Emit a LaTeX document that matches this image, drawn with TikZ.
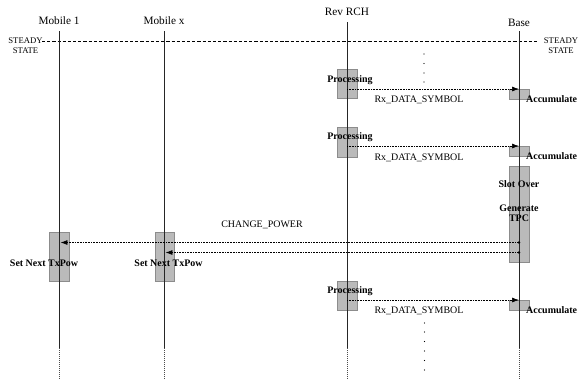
\documentclass[tikz,border=0pt]{standalone}
\usepackage{fontspec}
\setmainfont{Liberation Serif}
\usetikzlibrary{arrows.meta}
\begin{document}
\begin{tikzpicture}[x=1bp,y=-1bp,
  hdr/.style={font=\fontsize{11.3}{12}\selectfont, inner sep=0pt},
  lbl/.style={font=\fontsize{10}{11}\selectfont, inner sep=0pt},
  blbl/.style={font=\bfseries\fontsize{10}{11}\selectfont, inner sep=0pt},
  sslbl/.style={font=\fontsize{8.7}{9.5}\selectfont, inner sep=0pt, align=center},
  life/.style={line width=0.9pt, draw=black!85},
  lifeend/.style={line width=0.9pt, draw=black!70, dash pattern=on 1pt off 1pt},
  actbox/.style={draw=black!45, fill=black!27, line width=0.6pt, inner sep=0pt},
  msg/.style={draw=black, line width=0.7pt, dash pattern=on 0.8pt off 0.8pt, -{Latex[length=7pt,width=5pt]}},
  dotmark/.style={circle, fill=black, inner sep=0pt, minimum size=2.6pt},
  smalldot/.style={circle, fill=black, inner sep=0pt, minimum size=1.3pt}
]
\useasboundingbox (0,0) rectangle (580,379);

% headers
\node[hdr] (m1) at (59,21) {Mobile 1};
\node[hdr] (mx) at (164,21) {Mobile x};
\node[hdr] (rr) at (347,12) {Rev RCH};
\node[hdr] (bs) at (519,23) {Base};

% lifeline coordinates
\coordinate (m1t) at (59,31);  \coordinate (m1m) at (59,348); \coordinate (m1b) at (59,378);
\coordinate (mxt) at (164,31); \coordinate (mxm) at (164,348); \coordinate (mxb) at (164,378);
\coordinate (rrt) at (347,22); \coordinate (rrm) at (347,348); \coordinate (rrb) at (347,378);
\coordinate (bst) at (519,31); \coordinate (bsm) at (519,348); \coordinate (bsb) at (519,378);

% steady state
\node[sslbl] (ssl) at (25.5,45.5) {STEADY\\STATE};
\node[sslbl] (ssr) at (561,45.5) {STEADY\\STATE};
\coordinate (dl) at (42,41.5);
\coordinate (dr) at (539,41.5);
\draw[line width=0.7pt, dash pattern=on 3.2pt off 2pt] (dl) -- (dr);

% activation boxes
\node[actbox, minimum width=20bp, minimum height=29bp] (p1) at (347,84) {};
\node[actbox, minimum width=20bp, minimum height=30bp] (p2) at (347,142) {};
\node[actbox, minimum width=20bp, minimum height=29bp] (p3) at (347,295.5) {};
\node[actbox, minimum width=20bp, minimum height=10bp] (a1) at (519,94) {};
\node[actbox, minimum width=20bp, minimum height=10bp] (a2) at (519,151) {};
\node[actbox, minimum width=20bp, minimum height=10bp] (a3) at (519,305) {};
\node[actbox, minimum width=20bp, minimum height=96bp] (tpc) at (519,214) {};
\node[actbox, minimum width=20bp, minimum height=49bp] (s1) at (59,256.5) {};
\node[actbox, minimum width=19bp, minimum height=49bp] (s2) at (164.5,256.5) {};

% lifelines (over boxes)
\draw[life] (m1t) -- (m1m);
\draw[lifeend] (m1m) -- (m1b);
\draw[life] (mxt) -- (mxm);
\draw[lifeend] (mxm) -- (mxb);
\draw[life] (rrt) -- (rrm);
\draw[lifeend] (rrm) -- (rrb);
\draw[life] (bst) -- (bsm);
\draw[lifeend] (bsm) -- (bsb);

% labels
\node[blbl] (lp1) at (350,80) {Processing};
\node[blbl] (lp2) at (350,137) {Processing};
\node[blbl] (lp3) at (350,291) {Processing};
\node[blbl, anchor=west] (la1) at (526,99.5) {Accumulate};
\node[blbl, anchor=west] (la2) at (526,156.5) {Accumulate};
\node[blbl, anchor=west] (la3) at (526,310) {Accumulate};
\node[lbl] (lr1) at (419,99.5) {Rx\_DATA\_SYMBOL};
\node[lbl] (lr2) at (419,158) {Rx\_DATA\_SYMBOL};
\node[lbl] (lr3) at (419,311) {Rx\_DATA\_SYMBOL};
\node[blbl] (lso) at (519,184) {Slot Over};
\node[blbl, align=center] (lgt) at (519,213.5) {Generate\\[-1pt]TPC};
\node[lbl] (lcp) at (262,225) {CHANGE\_POWER};
\node[blbl] (ls1) at (44,263) {Set Next TxPow};
\node[blbl] (ls2) at (168.5,263) {Set Next TxPow};

% message coordinates
\coordinate (r1s) at (347,89);  \coordinate (r1e) at (519,89);
\coordinate (r2s) at (347,146); \coordinate (r2e) at (519,146);
\coordinate (r3s) at (347,300); \coordinate (r3e) at (519,300);
\node[dotmark] (c1s) at (519,242.5) {};
\node[dotmark] (c2s) at (519,252.5) {};
\coordinate (c1e) at (60.5,242.5);
\coordinate (c2e) at (165.5,252.5);

\draw[msg] (r1s) -- (r1e);
\draw[msg] (r2s) -- (r2e);
\draw[msg] (r3s) -- (r3e);
\draw[msg] (c1s.center) -- (c1e);
\draw[msg] (c2s.center) -- (c2e);

% vertical ellipsis dots
\foreach \y [count=\i] in {54,63.5,73,82}
  \node[smalldot] (t\i) at (424,\y) {};
\foreach \y [count=\i] in {323,332,341.5,351,360.5,370}
  \node[smalldot] (b\i) at (424.5,\y) {};
\end{tikzpicture}
\end{document}
